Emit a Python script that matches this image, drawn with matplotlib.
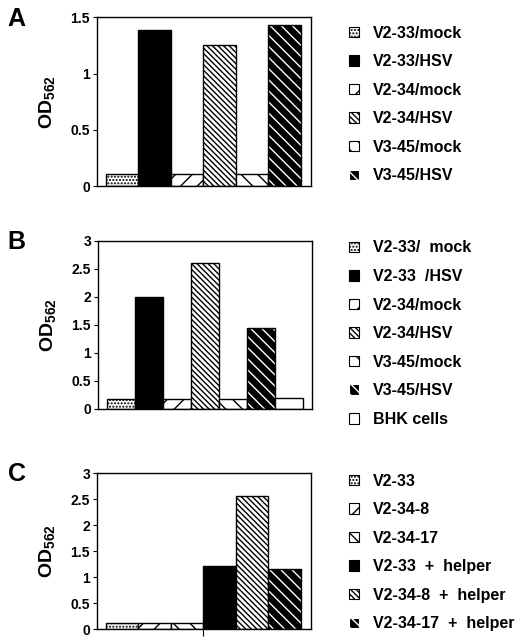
import matplotlib.pyplot as plt
import matplotlib.patches as mpatches
import numpy as np
import matplotlib as mp

mp.rcParams['font.family'] = ['Liberation Sans', 'DejaVu Sans']
mp.rcParams['hatch.linewidth'] = 1.0

# panel A
labels_a = ["V2-33/mock", "V2-33/HSV", "V2-34/mock", "V2-34/HSV", "V3-45/mock", "V3-45/HSV"]
values_a = [0.11, 1.39, 0.11, 1.25, 0.11, 1.43]

# panel B
labels_b = ["V2-33/  mock", "V2-33  /HSV", "V2-34/mock", "V2-34/HSV", "V3-45/mock", "V3-45/HSV", "BHK cells"]
values_b = [0.17, 2.0, 0.17, 2.6, 0.18, 1.45, 0.19]

# panel C
labels_c = ["V2-33", "V2-34-8", "V2-34-17", "V2-33  +  helper", "V2-34-8  +  helper", "V2-34-17  +  helper"]
values_c = [0.12, 0.12, 0.12, 1.22, 2.57, 1.15]

# fill styles: (face, hatch, hatch colour)
st_dots = ("white", ".....", "black")
st_solid = ("black", None, "black")
st_mock34 = ("white", "//", "black")
st_hsv34 = ("white", "\\" * 6, "black")
st_mock45 = ("white", "\\\\", "black")
st_hsv45 = ("black", "\\\\\\", "white")
st_white = ("white", None, "black")

styles_a = [st_dots, st_solid, st_mock34, st_hsv34, st_mock45, st_hsv45]
styles_b = styles_a + [st_white]
styles_c = [st_dots, st_mock34, st_mock45, st_solid, st_hsv34, st_hsv45]


def draw_panel(rect, values, labels, styles, ymax, yticks, letter, leg_y, xlim, midtick=None):
    ax = fig.add_axes(rect)
    x = np.arange(len(values))
    handles = []
    for xi, v, (fc, h, hc) in zip(x, values, styles):
        ax.bar(xi, v, width=1.0, color=fc, edgecolor=hc, hatch=h, linewidth=0)
        ax.bar(xi, v, width=1.0, fill=False, edgecolor="black", linewidth=1.0)
    for lab, (fc, h, hc) in zip(labels, styles):
        handles.append(mpatches.Patch(facecolor=fc, edgecolor=hc if h else "black",
                                      hatch=h, linewidth=0.8, label=lab))
    ax.set_xlim(*xlim)
    ax.set_ylim(0, ymax)
    ax.set_yticks(yticks)
    ax.set_yticklabels([f"{t:g}" for t in yticks], fontsize=10, fontweight="bold")
    if midtick is None:
        ax.set_xticks([])
    else:
        ax.set_xticks([midtick])
        ax.set_xticklabels([""])
        ax.tick_params(axis="x", direction="out", length=5)
    ax.tick_params(axis="y", direction="out", length=3, pad=2)
    for s in ax.spines.values():
        s.set_linewidth(1.0)
    ax.set_ylabel(r"$\mathregular{OD_{562}}$", fontsize=14, fontweight="bold", labelpad=10)
    fig.text(0.015, rect[1] + rect[3] - 0.002, letter, fontsize=18, fontweight="bold", va="center")
    fig.legend(handles=handles, loc="upper left", bbox_to_anchor=(0.65, leg_y),
               frameon=False, handlelength=0.63, handleheight=0.63,
               handletextpad=0.9, labelspacing=0.85, borderpad=0,
               prop={"weight": "bold", "size": 11.5})
    return ax


fig = plt.figure(figsize=(5.24, 6.42), dpi=100)
fig.patch.set_facecolor("white")

draw_panel([0.185, 0.710, 0.408, 0.263], values_a, labels_a, styles_a, 1.5,
           [0, 0.5, 1, 1.5], "A", 0.9727, (-0.777, 5.81))
draw_panel([0.187, 0.363, 0.408, 0.262], values_b, labels_b, styles_b, 3,
           [0, 0.5, 1, 1.5, 2, 2.5, 3], "B", 0.6379, (-0.82, 6.82))
draw_panel([0.185, 0.020, 0.408, 0.243], values_c, labels_c, styles_c, 3,
           [0, 0.5, 1, 1.5, 2, 2.5, 3], "C", 0.2749, (-0.777, 5.81), midtick=2.5)

plt.savefig("out.png", dpi=100)
